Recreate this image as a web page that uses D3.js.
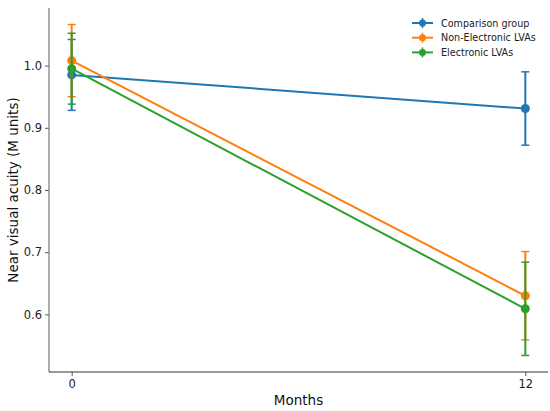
<!DOCTYPE html>
<html><head><meta charset="utf-8">
<script src="https://cdn.jsdelivr.net/npm/d3@7"></script>
<style>body{margin:0;background:#fff}svg{display:block;font-family:"DejaVu Sans",sans-serif}</style>
</head><body><svg id="c" width="550" height="411"></svg>
<script>
const months = [0, 12];
const seriesNames = ["Comparison group", "Non-Electronic LVAs", "Electronic LVAs"];
const seriesColors = ["#1f77b4", "#ff7f0e", "#2ca02c"];
const comparisonMean = [0.985, 0.931];
const comparisonErr = [0.057, 0.059];
const nonElectronicMean = [1.008, 0.630];
const nonElectronicErr = [0.058, 0.071];
const electronicMean = [0.995, 0.609];
const electronicErr = [0.057, 0.075];
const yTicks = [0.6, 0.7, 0.8, 0.9, 1.0];
const xTicks = [0, 12];

const series = [
  {name: seriesNames[0], color: seriesColors[0], mean: comparisonMean, err: comparisonErr},
  {name: seriesNames[1], color: seriesColors[1], mean: nonElectronicMean, err: nonElectronicErr},
  {name: seriesNames[2], color: seriesColors[2], mean: electronicMean, err: electronicErr}
];

const L = 49, R = 548, T = 8, B = 372;
let lo = Infinity, hi = -Infinity;
series.forEach(s => s.mean.forEach((m, i) => { lo = Math.min(lo, m - s.err[i]); hi = Math.max(hi, m + s.err[i]); }));
const pad = (hi - lo) * 0.05;
const y = d3.scaleLinear().domain([lo - pad, hi + pad]).range([B, T]);
const x = d3.scaleLinear().domain([-0.6, 12.6]).range([L, R]);

const svg = d3.select("#c");

// axes
const yAxis = svg.append("g").attr("transform", `translate(${L},0)`)
  .call(d3.axisLeft(y).tickValues(yTicks).tickFormat(d3.format(".1f")).tickSize(4).tickPadding(3).tickSizeOuter(0));
yAxis.select(".domain").remove();
yAxis.selectAll("line").attr("stroke", "#444").attr("stroke-width", 0.9);
yAxis.selectAll("text").attr("font-size", 11.5).attr("fill", "#222").attr("font-family", "DejaVu Sans");
svg.append("line").attr("x1", L).attr("x2", L).attr("y1", T).attr("y2", B).attr("stroke", "#777").attr("stroke-width", 1.2);

const xAxis = svg.append("g").attr("transform", `translate(0,${B})`)
  .call(d3.axisBottom(x).tickValues(xTicks).tickFormat(d3.format("d")).tickSize(4).tickPadding(4).tickSizeOuter(0));
xAxis.select(".domain").remove();
xAxis.selectAll("line").attr("stroke", "#444").attr("stroke-width", 0.9);
xAxis.selectAll("text").attr("font-size", 11.5).attr("fill", "#222").attr("font-family", "DejaVu Sans");
svg.append("line").attr("x1", L).attr("x2", R).attr("y1", B).attr("y2", B).attr("stroke", "#333").attr("stroke-width", 1.2);

svg.append("text").attr("x", (L + R) / 2).attr("y", 405).attr("text-anchor", "middle")
  .attr("font-size", 13.5).attr("fill", "#111").text("Months");
svg.append("text").attr("transform", `translate(18,${(T + B) / 2}) rotate(-90)`).attr("text-anchor", "middle")
  .attr("font-size", 13.5).attr("fill", "#111").text("Near visual acuity (M units)");

// data
const line = d3.line().x((d, i) => x(months[i])).y(d => y(d));
const cap = 4;
series.forEach(s => {
  const g = svg.append("g");
  s.mean.forEach((m, i) => {
    const cx = x(months[i]);
    g.append("line").attr("x1", cx).attr("x2", cx).attr("y1", y(m - s.err[i])).attr("y2", y(m + s.err[i]))
      .attr("stroke", s.color).attr("stroke-width", 2);
    [m - s.err[i], m + s.err[i]].forEach(v => g.append("line").attr("x1", cx - cap).attr("x2", cx + cap)
      .attr("y1", y(v)).attr("y2", y(v)).attr("stroke", s.color).attr("stroke-width", 1.5));
  });
  g.append("path").datum(s.mean).attr("d", line).attr("fill", "none").attr("stroke", s.color).attr("stroke-width", 2);
  g.selectAll("circle").data(s.mean).join("circle").attr("cx", (d, i) => x(months[i])).attr("cy", d => y(d))
    .attr("r", 4.5).attr("fill", s.color);
});

// legend
const lg = svg.append("g");
series.forEach((s, i) => {
  const yy = 23 + i * 14.7;
  const g = lg.append("g");
  g.append("line").attr("x1", 412).attr("x2", 433).attr("y1", yy).attr("y2", yy).attr("stroke", s.color).attr("stroke-width", 2);
  g.append("line").attr("x1", 422.5).attr("x2", 422.5).attr("y1", yy - 5).attr("y2", yy + 5).attr("stroke", s.color).attr("stroke-width", 1.5);
  g.append("circle").attr("cx", 422.5).attr("cy", yy).attr("r", 3.5).attr("fill", s.color);
  g.append("text").attr("x", 441).attr("y", yy + 3.5).attr("font-size", 9.6).attr("fill", "#222").text(s.name);
});
</script></body></html>
